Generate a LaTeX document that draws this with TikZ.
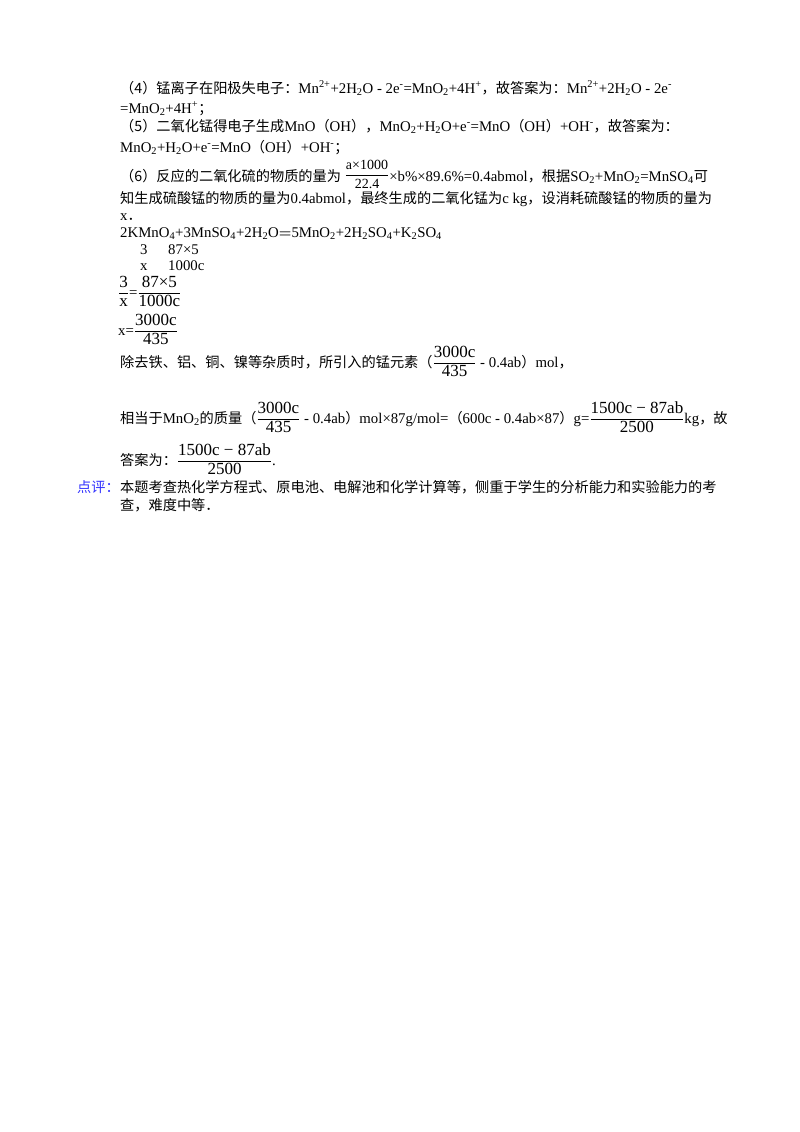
\documentclass[tikz,border=0pt]{standalone}
\usepackage{amsmath}
\usepackage{fontspec}
\setmainfont{Liberation Serif}
\newfontfamily\cjk{Noto Sans CJK SC}
\newcommand{\C}[1]{{\cjk\fontsize{14.2}{16}\selectfont #1}}
\newcommand{\Sb}[1]{\textsubscript{#1}}
\newcommand{\Sp}[1]{\textsuperscript{#1}}
\newcommand{\Fr}[2]{$\dfrac{\text{\fontsize{17}{18}\selectfont #1}}{\text{\fontsize{17}{18}\selectfont #2}}$}
\newcommand{\Frs}[2]{\raisebox{2pt}{$\dfrac{\text{\fontsize{14}{15}\selectfont #1}}{\text{\fontsize{14}{15}\selectfont #2}}$}}
\begin{document}
\begin{tikzpicture}[x=1pt,y=-1pt,
  ln/.style={anchor=base west,inner sep=0pt,font=\fontsize{14.8}{16}\selectfont}]
\useasboundingbox[fill=white] (0,0) rectangle (800,1132);
\node[ln] (l1) at (120,93) {\C{（4）锰离子在阳极失电子：}Mn\Sp{2+}+2H\Sb{2}O - 2e\Sp{-}=MnO\Sb{2}+4H\Sp{+}\C{，故答案为：}Mn\Sp{2+}+2H\Sb{2}O - 2e\Sp{-}};
\node[ln] (l2) at (120,113) {=MnO\Sb{2}+4H\Sp{+}\C{；}};
\node[ln] (l3) at (120,131) {\C{（5）二氧化锰得电子生成}MnO\C{（}OH\C{），}MnO\Sb{2}+H\Sb{2}O+e\Sp{-}=MnO\C{（}OH\C{）}+OH\Sp{-}\C{，故答案为：}};
\node[ln] (l4) at (120,152) {MnO\Sb{2}+H\Sb{2}O+e\Sp{-}=MnO\C{（}OH\C{）}+OH\Sp{-}\C{；}};
\node[ln] (l5) at (120,181) {\C{（6）反应的二氧化硫的物质的量为} \Frs{a×1000}{22.4}×b\%×89.6\%=0.4abmol\C{，根据}SO\Sb{2}+MnO\Sb{2}=MnSO\Sb{4}\C{可}};
\node[ln] (l6) at (120,203) {\C{知生成硫酸锰的物质的量为}0.4abmol\C{，最终生成的二氧化锰为}c kg\C{，设消耗硫酸锰的物质的量为}};
\node[ln] (l7) at (120,220) {x\C{．}};
\node[ln] (l8) at (120,237) {2KMnO\Sb{4}+3MnSO\Sb{4}+2H\Sb{2}O$\boldsymbol{=}$5MnO\Sb{2}+2H\Sb{2}SO\Sb{4}+K\Sb{2}SO\Sb{4}};
\node[ln] (a3) at (140,254) {3};
\node[ln] (a87) at (168,254) {87×5};
\node[ln] (ax) at (140,270) {x};
\node[ln] (a1000) at (168,270) {1000c};
\node[ln] (f1) at (118,297) {\Fr{3}{x}=\Fr{87×5}{1000c}};
\node[ln] (f2) at (118,335) {x=\Fr{3000c}{435}};
\node[ln] (l9) at (120,367) {\C{除去铁、铝、铜、镍等杂质时，所引入的锰元素（}\Fr{3000c}{435} - 0.4ab\C{）}mol\C{，}};
\node[ln] (l10) at (120,423) {\C{相当于}MnO\Sb{2}\C{的质量（}\Fr{3000c}{435} - 0.4ab\C{）}mol×87g/mol=\C{（}600c - 0.4ab×87\C{）}g=\Fr{1500c − 87ab}{2500}kg\C{，故}};
\node[ln] (l11) at (120,465) {\C{答案为：}\Fr{1500c − 87ab}{2500}.};
\node[ln,text=blue!80!white] (dp) at (77,492) {\C{点评：}};
\node[ln] (l12) at (120,492) {\C{本题考查热化学方程式、原电池、电解池和化学计算等，侧重于学生的分析能力和实验能力的考}};
\node[ln] (l13) at (120,510) {\C{查，难度中等．}};
\end{tikzpicture}
\end{document}
